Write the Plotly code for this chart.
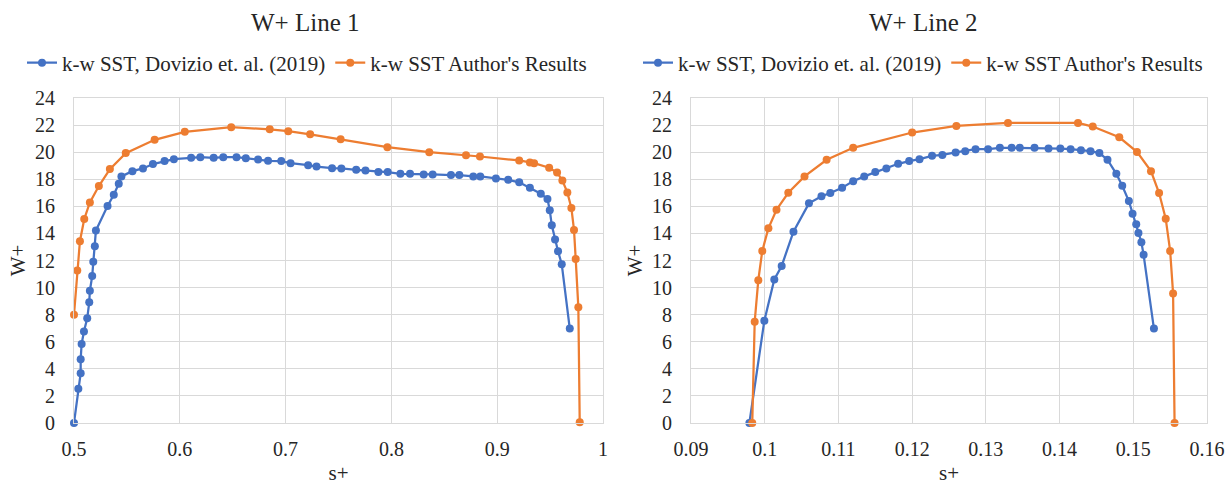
import plotly.graph_objects as go

# ---------------- data ----------------
blue1_x = [0.5, 0.5041, 0.5063, 0.5063, 0.5072, 0.5094, 0.5125, 0.5144, 0.5150, 0.5172, 0.5182, 0.5197,
           0.5207, 0.5317, 0.5376, 0.5423, 0.5448, 0.5552, 0.5652, 0.5746, 0.5856, 0.5944, 0.6107, 0.6194,
           0.6320, 0.6411, 0.6536, 0.6624, 0.6740, 0.6834, 0.6959, 0.7047, 0.7213, 0.7292, 0.7439, 0.7527,
           0.7667, 0.7755, 0.7877, 0.7965, 0.8085, 0.8176, 0.8305, 0.8390, 0.8563, 0.8642, 0.8774, 0.8840,
           0.8988, 0.9104, 0.9208, 0.9309, 0.9412, 0.9475, 0.9497, 0.9516, 0.9547, 0.9575, 0.9610, 0.9686]
blue1_y = [0, 2.53, 3.68, 4.71, 5.84, 6.75, 7.73, 8.91, 9.77, 10.85, 11.9, 13.06,
           14.21, 16.02, 16.86, 17.67, 18.21, 18.6, 18.8, 19.12, 19.34, 19.48, 19.58, 19.63,
           19.58, 19.63, 19.63, 19.56, 19.46, 19.36, 19.34, 19.19, 19.04, 18.94, 18.82, 18.8,
           18.70, 18.65, 18.53, 18.53, 18.40, 18.40, 18.36, 18.36, 18.31, 18.31, 18.21, 18.21,
           18.06, 17.96, 17.77, 17.37, 16.93, 16.54, 15.71, 14.60, 13.55, 12.69, 11.73, 6.97]

orange1_x = [0.5, 0.5031, 0.5056, 0.5097, 0.5150, 0.5235, 0.5339, 0.5489, 0.5762, 0.6047, 0.6486,
             0.6850, 0.7025, 0.7232, 0.7520, 0.7962, 0.8358, 0.8705, 0.8837, 0.9208, 0.9309, 0.9349,
             0.9491, 0.9566, 0.9616, 0.9663, 0.9701, 0.9726, 0.9742, 0.9767, 0.9780]
orange1_y = [8.0, 11.26, 13.42, 15.07, 16.29, 17.5, 18.75, 19.93, 20.91, 21.50, 21.84,
             21.69, 21.55, 21.32, 20.96, 20.37, 20.0, 19.78, 19.68, 19.39, 19.24, 19.19,
             18.85, 18.50, 17.91, 17.03, 15.88, 14.26, 12.12, 8.54, 0.05]

blue2_x = [0.09792, 0.09995, 0.1013, 0.1023, 0.1039, 0.1060, 0.1077, 0.1089, 0.1105, 0.1120, 0.1135,
           0.1150, 0.1165, 0.1181, 0.1196, 0.1210, 0.1227, 0.1241, 0.1259, 0.1272, 0.1286, 0.1303,
           0.1319, 0.1335, 0.1346, 0.1366, 0.1385, 0.1401, 0.1415, 0.1429, 0.1442, 0.1454, 0.1465,
           0.1477, 0.1485, 0.1494, 0.1499, 0.1504, 0.1507, 0.1511, 0.1514, 0.1528]
blue2_y = [0, 7.56, 10.6, 11.6, 14.13, 16.22, 16.74, 16.98, 17.37, 17.86, 18.21,
           18.53, 18.80, 19.14, 19.34, 19.48, 19.73, 19.80, 19.98, 20.07, 20.22, 20.22,
           20.32, 20.32, 20.32, 20.32, 20.27, 20.27, 20.22, 20.15, 20.07, 19.93, 19.44,
           18.40, 17.52, 16.39, 15.46, 14.67, 14.04, 13.35, 12.42, 6.97]

orange2_x = [0.09831, 0.09864, 0.09913, 0.09967, 0.1005, 0.1016, 0.1032, 0.1054, 0.1084, 0.1120,
             0.1200, 0.1260, 0.1330, 0.1425, 0.1445, 0.1481, 0.1505, 0.1524, 0.1535, 0.1544,
             0.1550, 0.1554, 0.1556]
orange2_y = [0, 7.48, 10.55, 12.71, 14.38, 15.75, 17.0, 18.21, 19.44, 20.32,
             21.45, 21.94, 22.16, 22.16, 21.89, 21.10, 20.02, 18.60, 16.98, 15.09,
             12.71, 9.57, 0]

series_names = ["k-w SST, Dovizio et. al. (2019)", "k-w SST Author's Results"]
titles = ["W+ Line 1", "W+ Line 2"]

x1_ticks = [0.5, 0.6, 0.7, 0.8, 0.9, 1.0]
x1_labels = ["0.5", "0.6", "0.7", "0.8", "0.9", "1"]
x2_ticks = [0.09, 0.10, 0.11, 0.12, 0.13, 0.14, 0.15, 0.16]
x2_labels = ["0.09", "0.1", "0.11", "0.12", "0.13", "0.14", "0.15", "0.16"]
y_ticks = list(range(0, 25, 2))

# ---------------- style ----------------
BLUE = "#4472C4"
ORANGE = "#ED7D31"
GRID = "#D9D9D9"
TXT = "#262626"
FONT = "'Liberation Serif', 'Times New Roman', 'DejaVu Serif', serif"
FONT_A = "Times"
FONT_B = "Liberation Serif"
W, H = 1232, 486

fig = go.Figure()

def add(x, y, name, color, xa, ya, leg):
    fig.add_trace(go.Scatter(
        x=x, y=y, name=name, mode="lines+markers",
        line=dict(color=color, width=2.25),
        marker=dict(color=color, size=8),
        xaxis=xa, yaxis=ya, legend=leg, cliponaxis=False))

add(blue1_x, blue1_y, series_names[0], BLUE, "x", "y", "legend")
add(orange1_x, orange1_y, series_names[1], ORANGE, "x", "y", "legend")
add(blue2_x, blue2_y, series_names[0], BLUE, "x2", "y2", "legend2")
add(orange2_x, orange2_y, series_names[1], ORANGE, "x2", "y2", "legend2")

def px_x(p):
    return p / W

def px_y(p):
    return 1 - p / H

ydom = [px_y(423), px_y(98)]

def axis_common(fam):
    return dict(showgrid=True, gridcolor=GRID, gridwidth=1, zeroline=False,
                showline=True, linecolor=GRID, linewidth=1, mirror=True, ticks="",
                automargin=False,
                tickfont=dict(family=fam, size=20, color=TXT),
                title_font=dict(family=fam, size=21, color=TXT))

fig.update_layout(
    width=W, height=H,
    margin=dict(l=0, r=0, t=0, b=0, autoexpand=False),
    paper_bgcolor="white", plot_bgcolor="white",
    font=dict(family=FONT, color=TXT),
    xaxis=dict(domain=[px_x(74), px_x(603)], range=[0.5, 1.0], tickvals=x1_ticks, ticktext=x1_labels,
               anchor="y", title=dict(text="s+", standoff=6), ticklabelstandoff=8, **axis_common(FONT_A)),
    yaxis=dict(domain=ydom, range=[0, 24], tickvals=y_ticks, anchor="x",
               title=dict(text="W+", standoff=3), ticklabelstandoff=14, **axis_common(FONT_A)),
    xaxis2=dict(domain=[px_x(691), px_x(1207)], range=[0.09, 0.16], tickvals=x2_ticks, ticktext=x2_labels,
                anchor="y2", title=dict(text="s+", standoff=6), ticklabelstandoff=8, **axis_common(FONT_B)),
    yaxis2=dict(domain=ydom, range=[0, 24], tickvals=y_ticks, anchor="x2",
                title=dict(text="W+", standoff=3), ticklabelstandoff=14, **axis_common(FONT_B)),
    legend=dict(orientation="h", x=px_x(307), xanchor="center", y=px_y(63), yanchor="middle",
                font=dict(family=FONT, size=21, color=TXT), bgcolor="rgba(0,0,0,0)",
                itemclick=False, traceorder="normal"),
    legend2=dict(orientation="h", x=px_x(923), xanchor="center", y=px_y(63), yanchor="middle",
                 font=dict(family=FONT, size=21, color=TXT), bgcolor="rgba(0,0,0,0)",
                 itemclick=False, traceorder="normal"),
    annotations=[
        dict(text=titles[0], x=px_x(305), y=px_y(23), xref="paper", yref="paper",
             xanchor="center", yanchor="middle", showarrow=False,
             font=dict(family=FONT, size=25, color=TXT)),
        dict(text=titles[1], x=px_x(923), y=px_y(23), xref="paper", yref="paper",
             xanchor="center", yanchor="middle", showarrow=False,
             font=dict(family=FONT, size=25, color=TXT)),
    ],
)

fig.write_html("out.html", config={"displayModeBar": False},
               post_script="document.body.style.margin='0';document.body.style.overflow='hidden';")
